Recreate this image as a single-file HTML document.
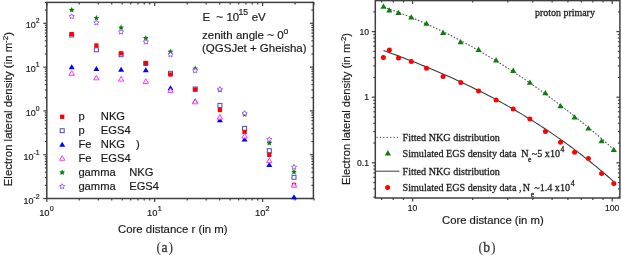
<!DOCTYPE html>
<html><head><meta charset="utf-8"><style>
html,body{margin:0;padding:0;background:#fff;width:622px;height:255px;overflow:hidden}
svg{display:block;will-change:transform}
</style></head><body>
<svg width="622" height="255" viewBox="0 0 622 255">
<rect width="622" height="255" fill="#fff"/>
<rect x="46.8" y="2.4" width="266.6" height="196.1" fill="none" stroke="#404040" stroke-width="1.5"/>
<line x1="46.8" y1="198.5" x2="46.8" y2="202" stroke="#404040" stroke-width="1.2" />
<line x1="46.8" y1="2.4" x2="46.8" y2="5.9" stroke="#404040" stroke-width="1.2" />
<line x1="79.28" y1="198.5" x2="79.28" y2="200.5" stroke="#404040" stroke-width="1.2" />
<line x1="79.28" y1="2.4" x2="79.28" y2="4.4" stroke="#404040" stroke-width="1.2" />
<line x1="98.28" y1="198.5" x2="98.28" y2="200.5" stroke="#404040" stroke-width="1.2" />
<line x1="98.28" y1="2.4" x2="98.28" y2="4.4" stroke="#404040" stroke-width="1.2" />
<line x1="111.76" y1="198.5" x2="111.76" y2="200.5" stroke="#404040" stroke-width="1.2" />
<line x1="111.76" y1="2.4" x2="111.76" y2="4.4" stroke="#404040" stroke-width="1.2" />
<line x1="122.22" y1="198.5" x2="122.22" y2="200.5" stroke="#404040" stroke-width="1.2" />
<line x1="122.22" y1="2.4" x2="122.22" y2="4.4" stroke="#404040" stroke-width="1.2" />
<line x1="130.76" y1="198.5" x2="130.76" y2="200.5" stroke="#404040" stroke-width="1.2" />
<line x1="130.76" y1="2.4" x2="130.76" y2="4.4" stroke="#404040" stroke-width="1.2" />
<line x1="137.99" y1="198.5" x2="137.99" y2="200.5" stroke="#404040" stroke-width="1.2" />
<line x1="137.99" y1="2.4" x2="137.99" y2="4.4" stroke="#404040" stroke-width="1.2" />
<line x1="144.24" y1="198.5" x2="144.24" y2="200.5" stroke="#404040" stroke-width="1.2" />
<line x1="144.24" y1="2.4" x2="144.24" y2="4.4" stroke="#404040" stroke-width="1.2" />
<line x1="149.76" y1="198.5" x2="149.76" y2="200.5" stroke="#404040" stroke-width="1.2" />
<line x1="149.76" y1="2.4" x2="149.76" y2="4.4" stroke="#404040" stroke-width="1.2" />
<line x1="154.7" y1="198.5" x2="154.7" y2="202" stroke="#404040" stroke-width="1.2" />
<line x1="154.7" y1="2.4" x2="154.7" y2="5.9" stroke="#404040" stroke-width="1.2" />
<line x1="187.18" y1="198.5" x2="187.18" y2="200.5" stroke="#404040" stroke-width="1.2" />
<line x1="187.18" y1="2.4" x2="187.18" y2="4.4" stroke="#404040" stroke-width="1.2" />
<line x1="206.18" y1="198.5" x2="206.18" y2="200.5" stroke="#404040" stroke-width="1.2" />
<line x1="206.18" y1="2.4" x2="206.18" y2="4.4" stroke="#404040" stroke-width="1.2" />
<line x1="219.66" y1="198.5" x2="219.66" y2="200.5" stroke="#404040" stroke-width="1.2" />
<line x1="219.66" y1="2.4" x2="219.66" y2="4.4" stroke="#404040" stroke-width="1.2" />
<line x1="230.12" y1="198.5" x2="230.12" y2="200.5" stroke="#404040" stroke-width="1.2" />
<line x1="230.12" y1="2.4" x2="230.12" y2="4.4" stroke="#404040" stroke-width="1.2" />
<line x1="238.66" y1="198.5" x2="238.66" y2="200.5" stroke="#404040" stroke-width="1.2" />
<line x1="238.66" y1="2.4" x2="238.66" y2="4.4" stroke="#404040" stroke-width="1.2" />
<line x1="245.89" y1="198.5" x2="245.89" y2="200.5" stroke="#404040" stroke-width="1.2" />
<line x1="245.89" y1="2.4" x2="245.89" y2="4.4" stroke="#404040" stroke-width="1.2" />
<line x1="252.14" y1="198.5" x2="252.14" y2="200.5" stroke="#404040" stroke-width="1.2" />
<line x1="252.14" y1="2.4" x2="252.14" y2="4.4" stroke="#404040" stroke-width="1.2" />
<line x1="257.66" y1="198.5" x2="257.66" y2="200.5" stroke="#404040" stroke-width="1.2" />
<line x1="257.66" y1="2.4" x2="257.66" y2="4.4" stroke="#404040" stroke-width="1.2" />
<line x1="262.6" y1="198.5" x2="262.6" y2="202" stroke="#404040" stroke-width="1.2" />
<line x1="262.6" y1="2.4" x2="262.6" y2="5.9" stroke="#404040" stroke-width="1.2" />
<line x1="295.08" y1="198.5" x2="295.08" y2="200.5" stroke="#404040" stroke-width="1.2" />
<line x1="295.08" y1="2.4" x2="295.08" y2="4.4" stroke="#404040" stroke-width="1.2" />
<line x1="314.08" y1="198.5" x2="314.08" y2="200.5" stroke="#404040" stroke-width="1.2" />
<line x1="314.08" y1="2.4" x2="314.08" y2="4.4" stroke="#404040" stroke-width="1.2" />
<line x1="43.3" y1="198.5" x2="46.8" y2="198.5" stroke="#404040" stroke-width="1.2" />
<line x1="309.9" y1="198.5" x2="313.4" y2="198.5" stroke="#404040" stroke-width="1.2" />
<line x1="44.8" y1="185.31" x2="46.8" y2="185.31" stroke="#404040" stroke-width="1.2" />
<line x1="311.4" y1="185.31" x2="313.4" y2="185.31" stroke="#404040" stroke-width="1.2" />
<line x1="44.8" y1="177.6" x2="46.8" y2="177.6" stroke="#404040" stroke-width="1.2" />
<line x1="311.4" y1="177.6" x2="313.4" y2="177.6" stroke="#404040" stroke-width="1.2" />
<line x1="44.8" y1="172.13" x2="46.8" y2="172.13" stroke="#404040" stroke-width="1.2" />
<line x1="311.4" y1="172.13" x2="313.4" y2="172.13" stroke="#404040" stroke-width="1.2" />
<line x1="44.8" y1="167.89" x2="46.8" y2="167.89" stroke="#404040" stroke-width="1.2" />
<line x1="311.4" y1="167.89" x2="313.4" y2="167.89" stroke="#404040" stroke-width="1.2" />
<line x1="44.8" y1="164.42" x2="46.8" y2="164.42" stroke="#404040" stroke-width="1.2" />
<line x1="311.4" y1="164.42" x2="313.4" y2="164.42" stroke="#404040" stroke-width="1.2" />
<line x1="44.8" y1="161.48" x2="46.8" y2="161.48" stroke="#404040" stroke-width="1.2" />
<line x1="311.4" y1="161.48" x2="313.4" y2="161.48" stroke="#404040" stroke-width="1.2" />
<line x1="44.8" y1="158.94" x2="46.8" y2="158.94" stroke="#404040" stroke-width="1.2" />
<line x1="311.4" y1="158.94" x2="313.4" y2="158.94" stroke="#404040" stroke-width="1.2" />
<line x1="44.8" y1="156.7" x2="46.8" y2="156.7" stroke="#404040" stroke-width="1.2" />
<line x1="311.4" y1="156.7" x2="313.4" y2="156.7" stroke="#404040" stroke-width="1.2" />
<line x1="43.3" y1="154.7" x2="46.8" y2="154.7" stroke="#404040" stroke-width="1.2" />
<line x1="309.9" y1="154.7" x2="313.4" y2="154.7" stroke="#404040" stroke-width="1.2" />
<line x1="44.8" y1="141.51" x2="46.8" y2="141.51" stroke="#404040" stroke-width="1.2" />
<line x1="311.4" y1="141.51" x2="313.4" y2="141.51" stroke="#404040" stroke-width="1.2" />
<line x1="44.8" y1="133.8" x2="46.8" y2="133.8" stroke="#404040" stroke-width="1.2" />
<line x1="311.4" y1="133.8" x2="313.4" y2="133.8" stroke="#404040" stroke-width="1.2" />
<line x1="44.8" y1="128.33" x2="46.8" y2="128.33" stroke="#404040" stroke-width="1.2" />
<line x1="311.4" y1="128.33" x2="313.4" y2="128.33" stroke="#404040" stroke-width="1.2" />
<line x1="44.8" y1="124.09" x2="46.8" y2="124.09" stroke="#404040" stroke-width="1.2" />
<line x1="311.4" y1="124.09" x2="313.4" y2="124.09" stroke="#404040" stroke-width="1.2" />
<line x1="44.8" y1="120.62" x2="46.8" y2="120.62" stroke="#404040" stroke-width="1.2" />
<line x1="311.4" y1="120.62" x2="313.4" y2="120.62" stroke="#404040" stroke-width="1.2" />
<line x1="44.8" y1="117.68" x2="46.8" y2="117.68" stroke="#404040" stroke-width="1.2" />
<line x1="311.4" y1="117.68" x2="313.4" y2="117.68" stroke="#404040" stroke-width="1.2" />
<line x1="44.8" y1="115.14" x2="46.8" y2="115.14" stroke="#404040" stroke-width="1.2" />
<line x1="311.4" y1="115.14" x2="313.4" y2="115.14" stroke="#404040" stroke-width="1.2" />
<line x1="44.8" y1="112.9" x2="46.8" y2="112.9" stroke="#404040" stroke-width="1.2" />
<line x1="311.4" y1="112.9" x2="313.4" y2="112.9" stroke="#404040" stroke-width="1.2" />
<line x1="43.3" y1="110.9" x2="46.8" y2="110.9" stroke="#404040" stroke-width="1.2" />
<line x1="309.9" y1="110.9" x2="313.4" y2="110.9" stroke="#404040" stroke-width="1.2" />
<line x1="44.8" y1="97.71" x2="46.8" y2="97.71" stroke="#404040" stroke-width="1.2" />
<line x1="311.4" y1="97.71" x2="313.4" y2="97.71" stroke="#404040" stroke-width="1.2" />
<line x1="44.8" y1="90" x2="46.8" y2="90" stroke="#404040" stroke-width="1.2" />
<line x1="311.4" y1="90" x2="313.4" y2="90" stroke="#404040" stroke-width="1.2" />
<line x1="44.8" y1="84.53" x2="46.8" y2="84.53" stroke="#404040" stroke-width="1.2" />
<line x1="311.4" y1="84.53" x2="313.4" y2="84.53" stroke="#404040" stroke-width="1.2" />
<line x1="44.8" y1="80.29" x2="46.8" y2="80.29" stroke="#404040" stroke-width="1.2" />
<line x1="311.4" y1="80.29" x2="313.4" y2="80.29" stroke="#404040" stroke-width="1.2" />
<line x1="44.8" y1="76.82" x2="46.8" y2="76.82" stroke="#404040" stroke-width="1.2" />
<line x1="311.4" y1="76.82" x2="313.4" y2="76.82" stroke="#404040" stroke-width="1.2" />
<line x1="44.8" y1="73.88" x2="46.8" y2="73.88" stroke="#404040" stroke-width="1.2" />
<line x1="311.4" y1="73.88" x2="313.4" y2="73.88" stroke="#404040" stroke-width="1.2" />
<line x1="44.8" y1="71.34" x2="46.8" y2="71.34" stroke="#404040" stroke-width="1.2" />
<line x1="311.4" y1="71.34" x2="313.4" y2="71.34" stroke="#404040" stroke-width="1.2" />
<line x1="44.8" y1="69.1" x2="46.8" y2="69.1" stroke="#404040" stroke-width="1.2" />
<line x1="311.4" y1="69.1" x2="313.4" y2="69.1" stroke="#404040" stroke-width="1.2" />
<line x1="43.3" y1="67.1" x2="46.8" y2="67.1" stroke="#404040" stroke-width="1.2" />
<line x1="309.9" y1="67.1" x2="313.4" y2="67.1" stroke="#404040" stroke-width="1.2" />
<line x1="44.8" y1="53.91" x2="46.8" y2="53.91" stroke="#404040" stroke-width="1.2" />
<line x1="311.4" y1="53.91" x2="313.4" y2="53.91" stroke="#404040" stroke-width="1.2" />
<line x1="44.8" y1="46.2" x2="46.8" y2="46.2" stroke="#404040" stroke-width="1.2" />
<line x1="311.4" y1="46.2" x2="313.4" y2="46.2" stroke="#404040" stroke-width="1.2" />
<line x1="44.8" y1="40.73" x2="46.8" y2="40.73" stroke="#404040" stroke-width="1.2" />
<line x1="311.4" y1="40.73" x2="313.4" y2="40.73" stroke="#404040" stroke-width="1.2" />
<line x1="44.8" y1="36.49" x2="46.8" y2="36.49" stroke="#404040" stroke-width="1.2" />
<line x1="311.4" y1="36.49" x2="313.4" y2="36.49" stroke="#404040" stroke-width="1.2" />
<line x1="44.8" y1="33.02" x2="46.8" y2="33.02" stroke="#404040" stroke-width="1.2" />
<line x1="311.4" y1="33.02" x2="313.4" y2="33.02" stroke="#404040" stroke-width="1.2" />
<line x1="44.8" y1="30.08" x2="46.8" y2="30.08" stroke="#404040" stroke-width="1.2" />
<line x1="311.4" y1="30.08" x2="313.4" y2="30.08" stroke="#404040" stroke-width="1.2" />
<line x1="44.8" y1="27.54" x2="46.8" y2="27.54" stroke="#404040" stroke-width="1.2" />
<line x1="311.4" y1="27.54" x2="313.4" y2="27.54" stroke="#404040" stroke-width="1.2" />
<line x1="44.8" y1="25.3" x2="46.8" y2="25.3" stroke="#404040" stroke-width="1.2" />
<line x1="311.4" y1="25.3" x2="313.4" y2="25.3" stroke="#404040" stroke-width="1.2" />
<line x1="43.3" y1="23.3" x2="46.8" y2="23.3" stroke="#404040" stroke-width="1.2" />
<line x1="309.9" y1="23.3" x2="313.4" y2="23.3" stroke="#404040" stroke-width="1.2" />
<line x1="44.8" y1="10.11" x2="46.8" y2="10.11" stroke="#404040" stroke-width="1.2" />
<line x1="311.4" y1="10.11" x2="313.4" y2="10.11" stroke="#404040" stroke-width="1.2" />
<line x1="44.8" y1="2.4" x2="46.8" y2="2.4" stroke="#404040" stroke-width="1.2" />
<line x1="311.4" y1="2.4" x2="313.4" y2="2.4" stroke="#404040" stroke-width="1.2" />
<text x="39.5" y="203.5" font-family='"Liberation Sans", sans-serif' font-size="9.0" text-anchor="end" fill="#1a1a1a" stroke="#1a1a1a" stroke-width="0.18" >10<tspan dy="-5.0" font-size="6.8">-2</tspan></text>
<text x="39.5" y="159.7" font-family='"Liberation Sans", sans-serif' font-size="9.0" text-anchor="end" fill="#1a1a1a" stroke="#1a1a1a" stroke-width="0.18" >10<tspan dy="-5.0" font-size="6.8">-1</tspan></text>
<text x="39.5" y="115.9" font-family='"Liberation Sans", sans-serif' font-size="9.0" text-anchor="end" fill="#1a1a1a" stroke="#1a1a1a" stroke-width="0.18" >10<tspan dy="-5.0" font-size="6.8">0</tspan></text>
<text x="39.5" y="72.1" font-family='"Liberation Sans", sans-serif' font-size="9.0" text-anchor="end" fill="#1a1a1a" stroke="#1a1a1a" stroke-width="0.18" >10<tspan dy="-5.0" font-size="6.8">1</tspan></text>
<text x="39.5" y="28.3" font-family='"Liberation Sans", sans-serif' font-size="9.0" text-anchor="end" fill="#1a1a1a" stroke="#1a1a1a" stroke-width="0.18" >10<tspan dy="-5.0" font-size="6.8">2</tspan></text>
<text x="49.6" y="216.3" font-family='"Liberation Sans", sans-serif' font-size="9.4" text-anchor="end" fill="#1a1a1a" stroke="#1a1a1a" stroke-width="0.18" >10</text>
<text x="49.8" y="211.2" font-family='"Liberation Sans", sans-serif' font-size="7.2" text-anchor="start" fill="#1a1a1a" stroke="#1a1a1a" stroke-width="0.18" >0</text>
<text x="157.5" y="216.3" font-family='"Liberation Sans", sans-serif' font-size="9.4" text-anchor="end" fill="#1a1a1a" stroke="#1a1a1a" stroke-width="0.18" >10</text>
<text x="157.7" y="211.2" font-family='"Liberation Sans", sans-serif' font-size="7.2" text-anchor="start" fill="#1a1a1a" stroke="#1a1a1a" stroke-width="0.18" >1</text>
<text x="265.4" y="216.3" font-family='"Liberation Sans", sans-serif' font-size="9.4" text-anchor="end" fill="#1a1a1a" stroke="#1a1a1a" stroke-width="0.18" >10</text>
<text x="265.6" y="211.2" font-family='"Liberation Sans", sans-serif' font-size="7.2" text-anchor="start" fill="#1a1a1a" stroke="#1a1a1a" stroke-width="0.18" >2</text>
<rect x="69.7" y="33" width="4" height="4" fill="#fff" stroke="#4a4ac8" stroke-width="1"/>
<rect x="69.55" y="31.95" width="4.3" height="4.3" fill="#ff0000"/>
<polygon points="71.7,64.25 74.7,69.25 68.7,69.25" fill="#0000ff"/>
<polygon points="71.7,70.67 74.4,75.27 69,75.27" fill="#fff" stroke="#ff33ff" stroke-width="1"/>
<polygon points="71.7,7 72.58,8.79 74.55,9.07 73.13,10.46 73.46,12.43 71.7,11.5 69.94,12.43 70.27,10.46 68.85,9.07 70.82,8.79" fill="#0b7d0b"/>
<polygon points="71.7,13.75 72.51,15.39 74.32,15.65 73.01,16.92 73.32,18.72 71.7,17.88 70.08,18.72 70.39,16.92 69.08,15.65 70.89,15.39" fill="#fff" stroke="#9a50ff" stroke-width="0.9"/>
<rect x="94.4" y="47.8" width="4" height="4" fill="#fff" stroke="#4a4ac8" stroke-width="1"/>
<rect x="94.25" y="43.35" width="4.3" height="4.3" fill="#ff0000"/>
<polygon points="96.4,66.05 99.4,71.05 93.4,71.05" fill="#0000ff"/>
<polygon points="96.4,75.27 99.1,79.87 93.7,79.87" fill="#fff" stroke="#ff33ff" stroke-width="1"/>
<polygon points="96.4,15.1 97.28,16.89 99.25,17.17 97.83,18.56 98.16,20.53 96.4,19.6 94.64,20.53 94.97,18.56 93.55,17.17 95.52,16.89" fill="#0b7d0b"/>
<polygon points="96.4,20.05 97.21,21.69 99.02,21.95 97.71,23.22 98.02,25.02 96.4,24.18 94.78,25.02 95.09,23.22 93.78,21.95 95.59,21.69" fill="#fff" stroke="#9a50ff" stroke-width="0.9"/>
<rect x="119.1" y="52.7" width="4" height="4" fill="#fff" stroke="#4a4ac8" stroke-width="1"/>
<rect x="118.95" y="51.15" width="4.3" height="4.3" fill="#ff0000"/>
<polygon points="121.1,66.65 124.1,71.65 118.1,71.65" fill="#0000ff"/>
<polygon points="121.1,76.47 123.8,81.07 118.4,81.07" fill="#fff" stroke="#ff33ff" stroke-width="1"/>
<polygon points="121.1,24.6 121.98,26.39 123.95,26.67 122.53,28.06 122.86,30.03 121.1,29.1 119.34,30.03 119.67,28.06 118.25,26.67 120.22,26.39" fill="#0b7d0b"/>
<polygon points="121.1,29.15 121.91,30.79 123.72,31.05 122.41,32.32 122.72,34.12 121.1,33.28 119.48,34.12 119.79,32.32 118.48,31.05 120.29,30.79" fill="#fff" stroke="#9a50ff" stroke-width="0.9"/>
<rect x="143.8" y="61.5" width="4" height="4" fill="#fff" stroke="#4a4ac8" stroke-width="1"/>
<rect x="143.65" y="60.85" width="4.3" height="4.3" fill="#ff0000"/>
<polygon points="145.8,67.25 148.8,72.25 142.8,72.25" fill="#0000ff"/>
<polygon points="145.8,78.77 148.5,83.37 143.1,83.37" fill="#fff" stroke="#ff33ff" stroke-width="1"/>
<polygon points="145.8,35.3 146.68,37.09 148.65,37.37 147.23,38.76 147.56,40.73 145.8,39.8 144.04,40.73 144.37,38.76 142.95,37.37 144.92,37.09" fill="#0b7d0b"/>
<polygon points="145.8,39.15 146.61,40.79 148.42,41.05 147.11,42.32 147.42,44.12 145.8,43.27 144.18,44.12 144.49,42.32 143.18,41.05 144.99,40.79" fill="#fff" stroke="#9a50ff" stroke-width="0.9"/>
<rect x="168.5" y="71.3" width="4" height="4" fill="#fff" stroke="#4a4ac8" stroke-width="1"/>
<rect x="168.35" y="72.35" width="4.3" height="4.3" fill="#ff0000"/>
<polygon points="170.5,85.25 173.5,90.25 167.5,90.25" fill="#0000ff"/>
<polygon points="170.5,88.07 173.2,92.67 167.8,92.67" fill="#fff" stroke="#ff33ff" stroke-width="1"/>
<polygon points="170.5,48.7 171.38,50.49 173.35,50.77 171.93,52.16 172.26,54.13 170.5,53.2 168.74,54.13 169.07,52.16 167.65,50.77 169.62,50.49" fill="#0b7d0b"/>
<polygon points="170.5,51.85 171.31,53.49 173.12,53.75 171.81,55.02 172.12,56.82 170.5,55.98 168.88,56.82 169.19,55.02 167.88,53.75 169.69,53.49" fill="#fff" stroke="#9a50ff" stroke-width="0.9"/>
<rect x="193.2" y="87" width="4" height="4" fill="#fff" stroke="#4a4ac8" stroke-width="1"/>
<rect x="193.05" y="87.45" width="4.3" height="4.3" fill="#ff0000"/>
<polygon points="195.2,98.25 198.2,103.25 192.2,103.25" fill="#0000ff"/>
<polygon points="195.2,99.27 197.9,103.87 192.5,103.87" fill="#fff" stroke="#ff33ff" stroke-width="1"/>
<polygon points="195.2,65.6 196.08,67.39 198.05,67.67 196.63,69.06 196.96,71.03 195.2,70.1 193.44,71.03 193.77,69.06 192.35,67.67 194.32,67.39" fill="#0b7d0b"/>
<polygon points="195.2,67.95 196.01,69.59 197.82,69.85 196.51,71.12 196.82,72.92 195.2,72.07 193.58,72.92 193.89,71.12 192.58,69.85 194.39,69.59" fill="#fff" stroke="#9a50ff" stroke-width="0.9"/>
<rect x="217.9" y="103.4" width="4" height="4" fill="#fff" stroke="#4a4ac8" stroke-width="1"/>
<rect x="217.75" y="107.85" width="4.3" height="4.3" fill="#ff0000"/>
<polygon points="219.9,117.25 222.9,122.25 216.9,122.25" fill="#0000ff"/>
<polygon points="219.9,114.57 222.6,119.17 217.2,119.17" fill="#fff" stroke="#ff33ff" stroke-width="1"/>
<polygon points="219.9,87.1 220.78,88.89 222.75,89.17 221.33,90.56 221.66,92.53 219.9,91.6 218.14,92.53 218.47,90.56 217.05,89.17 219.02,88.89" fill="#0b7d0b"/>
<polygon points="219.9,86.55 220.71,88.19 222.52,88.45 221.21,89.72 221.52,91.52 219.9,90.67 218.28,91.52 218.59,89.72 217.28,88.45 219.09,88.19" fill="#fff" stroke="#9a50ff" stroke-width="0.9"/>
<rect x="242.6" y="126.4" width="4" height="4" fill="#fff" stroke="#4a4ac8" stroke-width="1"/>
<rect x="242.45" y="129.85" width="4.3" height="4.3" fill="#ff0000"/>
<polygon points="244.6,136.55 247.6,141.55 241.6,141.55" fill="#0000ff"/>
<polygon points="244.6,133.47 247.3,138.07 241.9,138.07" fill="#fff" stroke="#ff33ff" stroke-width="1"/>
<polygon points="244.6,111.4 245.48,113.19 247.45,113.47 246.03,114.86 246.36,116.83 244.6,115.9 242.84,116.83 243.17,114.86 241.75,113.47 243.72,113.19" fill="#0b7d0b"/>
<polygon points="244.6,110.55 245.41,112.19 247.22,112.45 245.91,113.72 246.22,115.52 244.6,114.67 242.98,115.52 243.29,113.72 241.98,112.45 243.79,112.19" fill="#fff" stroke="#9a50ff" stroke-width="0.9"/>
<rect x="267.3" y="148.7" width="4" height="4" fill="#fff" stroke="#4a4ac8" stroke-width="1"/>
<rect x="267.15" y="152.75" width="4.3" height="4.3" fill="#ff0000"/>
<polygon points="269.3,162.05 272.3,167.05 266.3,167.05" fill="#0000ff"/>
<polygon points="269.3,158.07 272,162.67 266.6,162.67" fill="#fff" stroke="#ff33ff" stroke-width="1"/>
<polygon points="269.3,140 270.18,141.79 272.15,142.07 270.73,143.46 271.06,145.43 269.3,144.5 267.54,145.43 267.87,143.46 266.45,142.07 268.42,141.79" fill="#0b7d0b"/>
<polygon points="269.3,136.75 270.11,138.39 271.92,138.65 270.61,139.92 270.92,141.72 269.3,140.88 267.68,141.72 267.99,139.92 266.68,138.65 268.49,138.39" fill="#fff" stroke="#9a50ff" stroke-width="0.9"/>
<rect x="292" y="175.3" width="4" height="4" fill="#fff" stroke="#4a4ac8" stroke-width="1"/>
<rect x="291.85" y="182.85" width="4.3" height="4.3" fill="#ff0000"/>
<polygon points="294,194.15 297,199.15 291,199.15" fill="#0000ff"/>
<polygon points="294,182.57 296.7,187.17 291.3,187.17" fill="#fff" stroke="#ff33ff" stroke-width="1"/>
<polygon points="294,168.9 294.88,170.69 296.85,170.97 295.43,172.36 295.76,174.33 294,173.4 292.24,174.33 292.57,172.36 291.15,170.97 293.12,170.69" fill="#0b7d0b"/>
<polygon points="294,164.45 294.81,166.09 296.62,166.35 295.31,167.62 295.62,169.42 294,168.57 292.38,169.42 292.69,167.62 291.38,166.35 293.19,166.09" fill="#fff" stroke="#9a50ff" stroke-width="0.9"/>
<rect x="60.05" y="114.65" width="4.3" height="4.3" fill="#ff0000"/>
<rect x="60.2" y="128.7" width="4" height="4" fill="#fff" stroke="#4a4ac8" stroke-width="1"/>
<polygon points="62.2,141.65 65.2,146.65 59.2,146.65" fill="#0000ff"/>
<polygon points="62.2,155.67 64.9,160.27 59.5,160.27" fill="#fff" stroke="#ff33ff" stroke-width="1"/>
<polygon points="62.2,169.5 63.08,171.29 65.05,171.57 63.63,172.96 63.96,174.93 62.2,174 60.44,174.93 60.77,172.96 59.35,171.57 61.32,171.29" fill="#0b7d0b"/>
<polygon points="62.2,183.75 63.01,185.39 64.82,185.65 63.51,186.92 63.82,188.72 62.2,187.88 60.58,188.72 60.89,186.92 59.58,185.65 61.39,185.39" fill="#fff" stroke="#9a50ff" stroke-width="0.9"/>
<text x="78.4" y="120.4" font-family='"Liberation Sans", sans-serif' font-size="11.2" text-anchor="start" fill="#1a1a1a" stroke="#1a1a1a" stroke-width="0.18" >p</text>
<text x="100.8" y="120.4" font-family='"Liberation Sans", sans-serif' font-size="11.2" text-anchor="start" fill="#1a1a1a" stroke="#1a1a1a" stroke-width="0.18" >NKG</text>
<text x="78.4" y="134.2" font-family='"Liberation Sans", sans-serif' font-size="11.2" text-anchor="start" fill="#1a1a1a" stroke="#1a1a1a" stroke-width="0.18" >p</text>
<text x="100.8" y="134.2" font-family='"Liberation Sans", sans-serif' font-size="11.2" text-anchor="start" fill="#1a1a1a" stroke="#1a1a1a" stroke-width="0.18" >EGS4</text>
<text x="78.4" y="148.1" font-family='"Liberation Sans", sans-serif' font-size="11.2" text-anchor="start" fill="#1a1a1a" stroke="#1a1a1a" stroke-width="0.18" >Fe</text>
<text x="100.8" y="148.1" font-family='"Liberation Sans", sans-serif' font-size="11.2" text-anchor="start" fill="#1a1a1a" stroke="#1a1a1a" stroke-width="0.18" >NKG</text>
<text x="78.4" y="162" font-family='"Liberation Sans", sans-serif' font-size="11.2" text-anchor="start" fill="#1a1a1a" stroke="#1a1a1a" stroke-width="0.18" >Fe</text>
<text x="100.8" y="162" font-family='"Liberation Sans", sans-serif' font-size="11.2" text-anchor="start" fill="#1a1a1a" stroke="#1a1a1a" stroke-width="0.18" >EGS4</text>
<text x="78.4" y="175.9" font-family='"Liberation Sans", sans-serif' font-size="11.2" text-anchor="start" fill="#1a1a1a" stroke="#1a1a1a" stroke-width="0.18" >gamma</text>
<text x="129.2" y="175.9" font-family='"Liberation Sans", sans-serif' font-size="11.2" text-anchor="start" fill="#1a1a1a" stroke="#1a1a1a" stroke-width="0.18" >NKG</text>
<text x="78.4" y="189.8" font-family='"Liberation Sans", sans-serif' font-size="11.2" text-anchor="start" fill="#1a1a1a" stroke="#1a1a1a" stroke-width="0.18" >gamma</text>
<text x="129.2" y="189.8" font-family='"Liberation Sans", sans-serif' font-size="11.2" text-anchor="start" fill="#1a1a1a" stroke="#1a1a1a" stroke-width="0.18" >EGS4</text>
<text x="135.9" y="148.1" font-family='"Liberation Sans", sans-serif' font-size="11.2" text-anchor="start" fill="#1a1a1a" stroke="#1a1a1a" stroke-width="0.18" >)</text>
<text x="202.5" y="20.8" font-family='"Liberation Sans", sans-serif' font-size="11.5" text-anchor="start" fill="#1a1a1a" stroke="#1a1a1a" stroke-width="0.18" >E</text>
<text x="216.3" y="20.8" font-family='"Liberation Sans", sans-serif' font-size="11.5" text-anchor="start" fill="#1a1a1a" stroke="#1a1a1a" stroke-width="0.18" >~</text>
<text x="226.4" y="20.8" font-family='"Liberation Sans", sans-serif' font-size="11.5" text-anchor="start" fill="#1a1a1a" stroke="#1a1a1a" stroke-width="0.18" >10</text>
<text x="238.4" y="15.1" font-family='"Liberation Sans", sans-serif' font-size="8.6" text-anchor="start" fill="#1a1a1a" stroke="#1a1a1a" stroke-width="0.18" >15</text>
<text x="251.7" y="20.8" font-family='"Liberation Sans", sans-serif' font-size="11.5" text-anchor="start" fill="#1a1a1a" stroke="#1a1a1a" stroke-width="0.18" >eV</text>
<text x="202" y="38.5" font-family='"Liberation Sans", sans-serif' font-size="11.5" text-anchor="start" fill="#1a1a1a" stroke="#1a1a1a" stroke-width="0.18" >zenith angle ~ 0</text>
<text x="283.4" y="33.6" font-family='"Liberation Sans", sans-serif' font-size="8.6" text-anchor="start" fill="#1a1a1a" stroke="#1a1a1a" stroke-width="0.18" >o</text>
<text x="202" y="52.3" font-family='"Liberation Sans", sans-serif' font-size="11.5" text-anchor="start" fill="#1a1a1a" stroke="#1a1a1a" stroke-width="0.18" >(QGSJet + Gheisha)</text>
<text x="118" y="233" font-family='"Liberation Sans", sans-serif' font-size="11.4" text-anchor="start" fill="#1a1a1a" stroke="#1a1a1a" stroke-width="0.18" >Core distance r (in m)</text>
<g transform="translate(12.4,109.1) rotate(-90)"><text x="0" y="0" font-family='"Liberation Sans", sans-serif' font-size="11.36" text-anchor="middle" fill="#1a1a1a" stroke="#1a1a1a" stroke-width="0.18">Electron lateral density (in m<tspan dy="-4.4" font-size="8">-2</tspan><tspan dy="4.4">)</tspan></text></g>
<text x="158.8" y="252" font-family='"Liberation Serif", serif' font-size="13.6" text-anchor="middle" fill="#333" stroke="#333" stroke-width="0.05" >(</text>
<text x="164.6" y="252" font-family='"Liberation Serif", serif' font-size="13.6" text-anchor="middle" fill="#333" stroke="#333" stroke-width="0.28" >a</text>
<text x="170.8" y="252" font-family='"Liberation Serif", serif' font-size="13.6" text-anchor="middle" fill="#333" stroke="#333" stroke-width="0.05" >)</text>
<rect x="375.3" y="0.6" width="244.6" height="197.4" fill="none" stroke="#404040" stroke-width="1.5"/>
<line x1="381.68" y1="198" x2="381.68" y2="200" stroke="#404040" stroke-width="1.2" />
<line x1="381.68" y1="0.6" x2="381.68" y2="2.6" stroke="#404040" stroke-width="1.2" />
<line x1="393.26" y1="198" x2="393.26" y2="200" stroke="#404040" stroke-width="1.2" />
<line x1="393.26" y1="0.6" x2="393.26" y2="2.6" stroke="#404040" stroke-width="1.2" />
<line x1="403.47" y1="198" x2="403.47" y2="200" stroke="#404040" stroke-width="1.2" />
<line x1="403.47" y1="0.6" x2="403.47" y2="2.6" stroke="#404040" stroke-width="1.2" />
<line x1="412.6" y1="198" x2="412.6" y2="201.5" stroke="#404040" stroke-width="1.2" />
<line x1="412.6" y1="0.6" x2="412.6" y2="4.1" stroke="#404040" stroke-width="1.2" />
<line x1="472.69" y1="198" x2="472.69" y2="200" stroke="#404040" stroke-width="1.2" />
<line x1="472.69" y1="0.6" x2="472.69" y2="2.6" stroke="#404040" stroke-width="1.2" />
<line x1="507.83" y1="198" x2="507.83" y2="200" stroke="#404040" stroke-width="1.2" />
<line x1="507.83" y1="0.6" x2="507.83" y2="2.6" stroke="#404040" stroke-width="1.2" />
<line x1="532.77" y1="198" x2="532.77" y2="200" stroke="#404040" stroke-width="1.2" />
<line x1="532.77" y1="0.6" x2="532.77" y2="2.6" stroke="#404040" stroke-width="1.2" />
<line x1="552.11" y1="198" x2="552.11" y2="200" stroke="#404040" stroke-width="1.2" />
<line x1="552.11" y1="0.6" x2="552.11" y2="2.6" stroke="#404040" stroke-width="1.2" />
<line x1="567.92" y1="198" x2="567.92" y2="200" stroke="#404040" stroke-width="1.2" />
<line x1="567.92" y1="0.6" x2="567.92" y2="2.6" stroke="#404040" stroke-width="1.2" />
<line x1="581.28" y1="198" x2="581.28" y2="200" stroke="#404040" stroke-width="1.2" />
<line x1="581.28" y1="0.6" x2="581.28" y2="2.6" stroke="#404040" stroke-width="1.2" />
<line x1="592.86" y1="198" x2="592.86" y2="200" stroke="#404040" stroke-width="1.2" />
<line x1="592.86" y1="0.6" x2="592.86" y2="2.6" stroke="#404040" stroke-width="1.2" />
<line x1="603.07" y1="198" x2="603.07" y2="200" stroke="#404040" stroke-width="1.2" />
<line x1="603.07" y1="0.6" x2="603.07" y2="2.6" stroke="#404040" stroke-width="1.2" />
<line x1="612.2" y1="198" x2="612.2" y2="201.5" stroke="#404040" stroke-width="1.2" />
<line x1="612.2" y1="0.6" x2="612.2" y2="4.1" stroke="#404040" stroke-width="1.2" />
<line x1="373.3" y1="197.1" x2="375.3" y2="197.1" stroke="#404040" stroke-width="1.2" />
<line x1="617.9" y1="197.1" x2="619.9" y2="197.1" stroke="#404040" stroke-width="1.2" />
<line x1="373.3" y1="188.9" x2="375.3" y2="188.9" stroke="#404040" stroke-width="1.2" />
<line x1="617.9" y1="188.9" x2="619.9" y2="188.9" stroke="#404040" stroke-width="1.2" />
<line x1="373.3" y1="182.55" x2="375.3" y2="182.55" stroke="#404040" stroke-width="1.2" />
<line x1="617.9" y1="182.55" x2="619.9" y2="182.55" stroke="#404040" stroke-width="1.2" />
<line x1="373.3" y1="177.35" x2="375.3" y2="177.35" stroke="#404040" stroke-width="1.2" />
<line x1="617.9" y1="177.35" x2="619.9" y2="177.35" stroke="#404040" stroke-width="1.2" />
<line x1="373.3" y1="172.96" x2="375.3" y2="172.96" stroke="#404040" stroke-width="1.2" />
<line x1="617.9" y1="172.96" x2="619.9" y2="172.96" stroke="#404040" stroke-width="1.2" />
<line x1="373.3" y1="169.16" x2="375.3" y2="169.16" stroke="#404040" stroke-width="1.2" />
<line x1="617.9" y1="169.16" x2="619.9" y2="169.16" stroke="#404040" stroke-width="1.2" />
<line x1="373.3" y1="165.8" x2="375.3" y2="165.8" stroke="#404040" stroke-width="1.2" />
<line x1="617.9" y1="165.8" x2="619.9" y2="165.8" stroke="#404040" stroke-width="1.2" />
<line x1="371.8" y1="162.8" x2="375.3" y2="162.8" stroke="#404040" stroke-width="1.2" />
<line x1="616.4" y1="162.8" x2="619.9" y2="162.8" stroke="#404040" stroke-width="1.2" />
<line x1="373.3" y1="143.05" x2="375.3" y2="143.05" stroke="#404040" stroke-width="1.2" />
<line x1="617.9" y1="143.05" x2="619.9" y2="143.05" stroke="#404040" stroke-width="1.2" />
<line x1="373.3" y1="131.5" x2="375.3" y2="131.5" stroke="#404040" stroke-width="1.2" />
<line x1="617.9" y1="131.5" x2="619.9" y2="131.5" stroke="#404040" stroke-width="1.2" />
<line x1="373.3" y1="123.3" x2="375.3" y2="123.3" stroke="#404040" stroke-width="1.2" />
<line x1="617.9" y1="123.3" x2="619.9" y2="123.3" stroke="#404040" stroke-width="1.2" />
<line x1="373.3" y1="116.95" x2="375.3" y2="116.95" stroke="#404040" stroke-width="1.2" />
<line x1="617.9" y1="116.95" x2="619.9" y2="116.95" stroke="#404040" stroke-width="1.2" />
<line x1="373.3" y1="111.75" x2="375.3" y2="111.75" stroke="#404040" stroke-width="1.2" />
<line x1="617.9" y1="111.75" x2="619.9" y2="111.75" stroke="#404040" stroke-width="1.2" />
<line x1="373.3" y1="107.36" x2="375.3" y2="107.36" stroke="#404040" stroke-width="1.2" />
<line x1="617.9" y1="107.36" x2="619.9" y2="107.36" stroke="#404040" stroke-width="1.2" />
<line x1="373.3" y1="103.56" x2="375.3" y2="103.56" stroke="#404040" stroke-width="1.2" />
<line x1="617.9" y1="103.56" x2="619.9" y2="103.56" stroke="#404040" stroke-width="1.2" />
<line x1="373.3" y1="100.2" x2="375.3" y2="100.2" stroke="#404040" stroke-width="1.2" />
<line x1="617.9" y1="100.2" x2="619.9" y2="100.2" stroke="#404040" stroke-width="1.2" />
<line x1="371.8" y1="97.2" x2="375.3" y2="97.2" stroke="#404040" stroke-width="1.2" />
<line x1="616.4" y1="97.2" x2="619.9" y2="97.2" stroke="#404040" stroke-width="1.2" />
<line x1="373.3" y1="77.45" x2="375.3" y2="77.45" stroke="#404040" stroke-width="1.2" />
<line x1="617.9" y1="77.45" x2="619.9" y2="77.45" stroke="#404040" stroke-width="1.2" />
<line x1="373.3" y1="65.9" x2="375.3" y2="65.9" stroke="#404040" stroke-width="1.2" />
<line x1="617.9" y1="65.9" x2="619.9" y2="65.9" stroke="#404040" stroke-width="1.2" />
<line x1="373.3" y1="57.7" x2="375.3" y2="57.7" stroke="#404040" stroke-width="1.2" />
<line x1="617.9" y1="57.7" x2="619.9" y2="57.7" stroke="#404040" stroke-width="1.2" />
<line x1="373.3" y1="51.35" x2="375.3" y2="51.35" stroke="#404040" stroke-width="1.2" />
<line x1="617.9" y1="51.35" x2="619.9" y2="51.35" stroke="#404040" stroke-width="1.2" />
<line x1="373.3" y1="46.15" x2="375.3" y2="46.15" stroke="#404040" stroke-width="1.2" />
<line x1="617.9" y1="46.15" x2="619.9" y2="46.15" stroke="#404040" stroke-width="1.2" />
<line x1="373.3" y1="41.76" x2="375.3" y2="41.76" stroke="#404040" stroke-width="1.2" />
<line x1="617.9" y1="41.76" x2="619.9" y2="41.76" stroke="#404040" stroke-width="1.2" />
<line x1="373.3" y1="37.96" x2="375.3" y2="37.96" stroke="#404040" stroke-width="1.2" />
<line x1="617.9" y1="37.96" x2="619.9" y2="37.96" stroke="#404040" stroke-width="1.2" />
<line x1="373.3" y1="34.6" x2="375.3" y2="34.6" stroke="#404040" stroke-width="1.2" />
<line x1="617.9" y1="34.6" x2="619.9" y2="34.6" stroke="#404040" stroke-width="1.2" />
<line x1="371.8" y1="31.6" x2="375.3" y2="31.6" stroke="#404040" stroke-width="1.2" />
<line x1="616.4" y1="31.6" x2="619.9" y2="31.6" stroke="#404040" stroke-width="1.2" />
<line x1="373.3" y1="11.85" x2="375.3" y2="11.85" stroke="#404040" stroke-width="1.2" />
<line x1="617.9" y1="11.85" x2="619.9" y2="11.85" stroke="#404040" stroke-width="1.2" />
<text x="369" y="34.7" font-family='"Liberation Sans", sans-serif' font-size="8.6" text-anchor="end" fill="#1a1a1a" stroke="#1a1a1a" stroke-width="0.18" >10</text>
<text x="369" y="100.3" font-family='"Liberation Sans", sans-serif' font-size="8.6" text-anchor="end" fill="#1a1a1a" stroke="#1a1a1a" stroke-width="0.18" >1</text>
<text x="369" y="165.9" font-family='"Liberation Sans", sans-serif' font-size="8.6" text-anchor="end" fill="#1a1a1a" stroke="#1a1a1a" stroke-width="0.18" >0.1</text>
<text x="412.6" y="211.3" font-family='"Liberation Sans", sans-serif' font-size="8.6" text-anchor="middle" fill="#1a1a1a" stroke="#1a1a1a" stroke-width="0.18" >10</text>
<text x="612.2" y="211.3" font-family='"Liberation Sans", sans-serif' font-size="8.6" text-anchor="middle" fill="#1a1a1a" stroke="#1a1a1a" stroke-width="0.18" >100</text>
<polyline points="384,7.17 386.91,8.18 389.82,9.21 392.73,10.26 395.64,11.33 398.54,12.42 401.45,13.53 404.36,14.66 407.27,15.81 410.18,16.99 413.09,18.18 416,19.4 418.91,20.63 421.82,21.89 424.72,23.16 427.63,24.46 430.54,25.78 433.45,27.11 436.36,28.47 439.27,29.85 442.18,31.25 445.09,32.67 447.99,34.11 450.9,35.57 453.81,37.05 456.72,38.55 459.63,40.07 462.54,41.62 465.45,43.18 468.36,44.76 471.27,46.36 474.17,47.99 477.08,49.63 479.99,51.29 482.9,52.98 485.81,54.68 488.72,56.41 491.63,58.15 494.54,59.92 497.45,61.7 500.35,63.5 503.26,65.33 506.17,67.17 509.08,69.04 511.99,70.92 514.9,72.83 517.81,74.75 520.72,76.7 523.63,78.66 526.53,80.65 529.44,82.65 532.35,84.68 535.26,86.72 538.17,88.79 541.08,90.87 543.99,92.97 546.9,95.1 549.81,97.24 552.71,99.4 555.62,101.59 558.53,103.79 561.44,106.01 564.35,108.25 567.26,110.52 570.17,112.8 573.08,115.1 575.98,117.42 578.89,119.76 581.8,122.12 584.71,124.5 587.62,126.9 590.53,129.32 593.44,131.75 596.35,134.21 599.26,136.69 602.16,139.19 605.07,141.7 607.98,144.24 610.89,146.79 613.8,149.36" fill="none" stroke="#555" stroke-width="1.1" stroke-dasharray="1.6,1.7"/>
<polyline points="383.5,50.5 386.42,51.56 389.33,52.63 392.25,53.7 395.16,54.78 398.08,55.87 400.99,56.97 403.91,58.08 406.82,59.2 409.74,60.32 412.65,61.46 415.57,62.61 418.48,63.77 421.4,64.94 424.31,66.12 427.23,67.31 430.14,68.51 433.06,69.73 435.97,70.96 438.89,72.2 441.8,73.46 444.72,74.72 447.63,76.01 450.55,77.3 453.46,78.61 456.38,79.94 459.29,81.28 462.21,82.63 465.13,84 468.04,85.39 470.96,86.79 473.87,88.21 476.79,89.65 479.7,91.1 482.62,92.57 485.53,94.06 488.45,95.57 491.36,97.09 494.28,98.63 497.19,100.19 500.11,101.77 503.02,103.37 505.94,105 508.85,106.64 511.77,108.3 514.68,109.98 517.6,111.68 520.51,113.4 523.43,115.15 526.34,116.92 529.26,118.71 532.17,120.52 535.09,122.35 538.01,124.21 540.92,126.09 543.84,128 546.75,129.92 549.67,131.88 552.58,133.86 555.5,135.86 558.41,137.89 561.33,139.94 564.24,142.02 567.16,144.13 570.07,146.26 572.99,148.42 575.9,150.61 578.82,152.82 581.73,155.06 584.65,157.33 587.56,159.63 590.48,161.95 593.39,164.31 596.31,166.69 599.22,169.11 602.14,171.55 605.05,174.02 607.97,176.53 610.88,179.06 613.8,181.63" fill="none" stroke="#3a3a3a" stroke-width="1.1"/>
<polygon points="383.5,3.38 386.6,8.68 380.4,8.68" fill="#0b7d0b"/>
<polygon points="389.3,7.28 392.4,12.58 386.2,12.58" fill="#0b7d0b"/>
<polygon points="398.5,9.79 401.6,15.08 395.4,15.08" fill="#0b7d0b"/>
<polygon points="411.3,14.19 414.4,19.48 408.2,19.48" fill="#0b7d0b"/>
<polygon points="426.5,20.39 429.6,25.69 423.4,25.69" fill="#0b7d0b"/>
<polygon points="443.1,29.59 446.2,34.88 440,34.88" fill="#0b7d0b"/>
<polygon points="460.6,38.88 463.7,44.18 457.5,44.18" fill="#0b7d0b"/>
<polygon points="478.6,46.59 481.7,51.88 475.5,51.88" fill="#0b7d0b"/>
<polygon points="496.1,57.19 499.2,62.48 493,62.48" fill="#0b7d0b"/>
<polygon points="513.2,67.58 516.3,72.89 510.1,72.89" fill="#0b7d0b"/>
<polygon points="529.9,79.48 533,84.79 526.8,84.79" fill="#0b7d0b"/>
<polygon points="545.4,89.98 548.5,95.29 542.3,95.29" fill="#0b7d0b"/>
<polygon points="560.5,102.98 563.6,108.29 557.4,108.29" fill="#0b7d0b"/>
<polygon points="574.6,114.28 577.7,119.59 571.5,119.59" fill="#0b7d0b"/>
<polygon points="588.4,125.18 591.5,130.48 585.3,130.48" fill="#0b7d0b"/>
<polygon points="601.6,137.89 604.7,143.19 598.5,143.19" fill="#0b7d0b"/>
<polygon points="613.8,146.78 616.9,152.08 610.7,152.08" fill="#0b7d0b"/>
<circle cx="383.4" cy="57.6" r="2.5" fill="#ff0000"/>
<circle cx="389.4" cy="50" r="2.5" fill="#ff0000"/>
<circle cx="398.5" cy="57.9" r="2.5" fill="#ff0000"/>
<circle cx="411.3" cy="61.6" r="2.5" fill="#ff0000"/>
<circle cx="426.5" cy="68.3" r="2.5" fill="#ff0000"/>
<circle cx="443.1" cy="76.6" r="2.5" fill="#ff0000"/>
<circle cx="460.8" cy="82.5" r="2.5" fill="#ff0000"/>
<circle cx="478.6" cy="91.1" r="2.5" fill="#ff0000"/>
<circle cx="496.1" cy="100" r="2.5" fill="#ff0000"/>
<circle cx="513.2" cy="108.9" r="2.5" fill="#ff0000"/>
<circle cx="529.9" cy="118.9" r="2.5" fill="#ff0000"/>
<circle cx="545.4" cy="131.6" r="2.5" fill="#ff0000"/>
<circle cx="560.5" cy="142.2" r="2.5" fill="#ff0000"/>
<circle cx="574.6" cy="152.2" r="2.5" fill="#ff0000"/>
<circle cx="588.4" cy="158.4" r="2.5" fill="#ff0000"/>
<circle cx="601.6" cy="173.6" r="2.5" fill="#ff0000"/>
<circle cx="613.8" cy="183.4" r="2.5" fill="#ff0000"/>
<line x1="376.5" y1="137.4" x2="398" y2="137.4" stroke="#3a3a3a" stroke-width="1" stroke-dasharray="1.2,2.2"/>
<polygon points="387.9,150.09 391,155.38 384.8,155.38" fill="#0b7d0b"/>
<line x1="375.9" y1="171.2" x2="399.4" y2="171.2" stroke="#3a3a3a" stroke-width="1" />
<circle cx="387.6" cy="187.6" r="2.5" fill="#ff0000"/>
<text x="402.5" y="140.8" font-family='"Liberation Serif", serif' font-size="10.15" text-anchor="start" fill="#1a1a1a" stroke="#1a1a1a" stroke-width="0.28" >Fitted NKG distribution</text>
<text x="402.5" y="156.8" font-family='"Liberation Serif", serif' font-size="10.15" text-anchor="start" fill="#1a1a1a" stroke="#1a1a1a" stroke-width="0.28" >Simulated EGS density data</text>
<text x="521.2" y="156.8" font-family='"Liberation Serif", serif' font-size="10.15" text-anchor="start" fill="#1a1a1a" stroke="#1a1a1a" stroke-width="0.28" >N</text>
<text x="528" y="162.4" font-family='"Liberation Serif", serif' font-size="7.6" text-anchor="start" fill="#1a1a1a" stroke="#1a1a1a" stroke-width="0.28" >e</text>
<text x="531.8" y="156.8" font-family='"Liberation Serif", serif' font-size="10.15" text-anchor="start" fill="#1a1a1a" stroke="#1a1a1a" stroke-width="0.28" >~5 x10</text>
<text x="560.4" y="152.2" font-family='"Liberation Serif", serif' font-size="7.6" text-anchor="start" fill="#1a1a1a" stroke="#1a1a1a" stroke-width="0.28" >4</text>
<text x="402.5" y="175" font-family='"Liberation Serif", serif' font-size="10.15" text-anchor="start" fill="#1a1a1a" stroke="#1a1a1a" stroke-width="0.28" >Fitted NKG distribution</text>
<text x="402.5" y="190.8" font-family='"Liberation Serif", serif' font-size="10.15" text-anchor="start" fill="#1a1a1a" stroke="#1a1a1a" stroke-width="0.28" >Simulated EGS density data ,</text>
<text x="522.7" y="190.8" font-family='"Liberation Serif", serif' font-size="10.15" text-anchor="start" fill="#1a1a1a" stroke="#1a1a1a" stroke-width="0.28" >N</text>
<text x="530.7" y="196.5" font-family='"Liberation Serif", serif' font-size="7.6" text-anchor="start" fill="#1a1a1a" stroke="#1a1a1a" stroke-width="0.28" >e</text>
<text x="534.2" y="190.8" font-family='"Liberation Serif", serif' font-size="10.15" text-anchor="start" fill="#1a1a1a" stroke="#1a1a1a" stroke-width="0.28" >~1.4 x10</text>
<text x="570.8" y="186.2" font-family='"Liberation Serif", serif' font-size="7.6" text-anchor="start" fill="#1a1a1a" stroke="#1a1a1a" stroke-width="0.28" >4</text>
<text x="535" y="15.7" font-family='"Liberation Serif", serif' font-size="9.95" text-anchor="start" fill="#1a1a1a" stroke="#1a1a1a" stroke-width="0.28" >proton primary</text>
<text x="442" y="223.6" font-family='"Liberation Sans", sans-serif' font-size="11.3" text-anchor="start" fill="#1a1a1a" stroke="#1a1a1a" stroke-width="0.18" >Core distance (in m)</text>
<g transform="translate(350.2,108.9) rotate(-90)"><text x="0" y="0" font-family='"Liberation Sans", sans-serif' font-size="11.2" text-anchor="middle" fill="#1a1a1a" stroke="#1a1a1a" stroke-width="0.18">Electron lateral density (in m<tspan dy="-4.4" font-size="8">-2</tspan><tspan dy="4.4">)</tspan></text></g>
<text x="480.7" y="251.8" font-family='"Liberation Serif", serif' font-size="13.6" text-anchor="middle" fill="#333" stroke="#333" stroke-width="0.05" >(</text>
<text x="486.6" y="251.8" font-family='"Liberation Serif", serif' font-size="13.6" text-anchor="middle" fill="#333" stroke="#333" stroke-width="0.28" >b</text>
<text x="493.2" y="251.8" font-family='"Liberation Serif", serif' font-size="13.6" text-anchor="middle" fill="#333" stroke="#333" stroke-width="0.05" >)</text>
</svg></body></html>
